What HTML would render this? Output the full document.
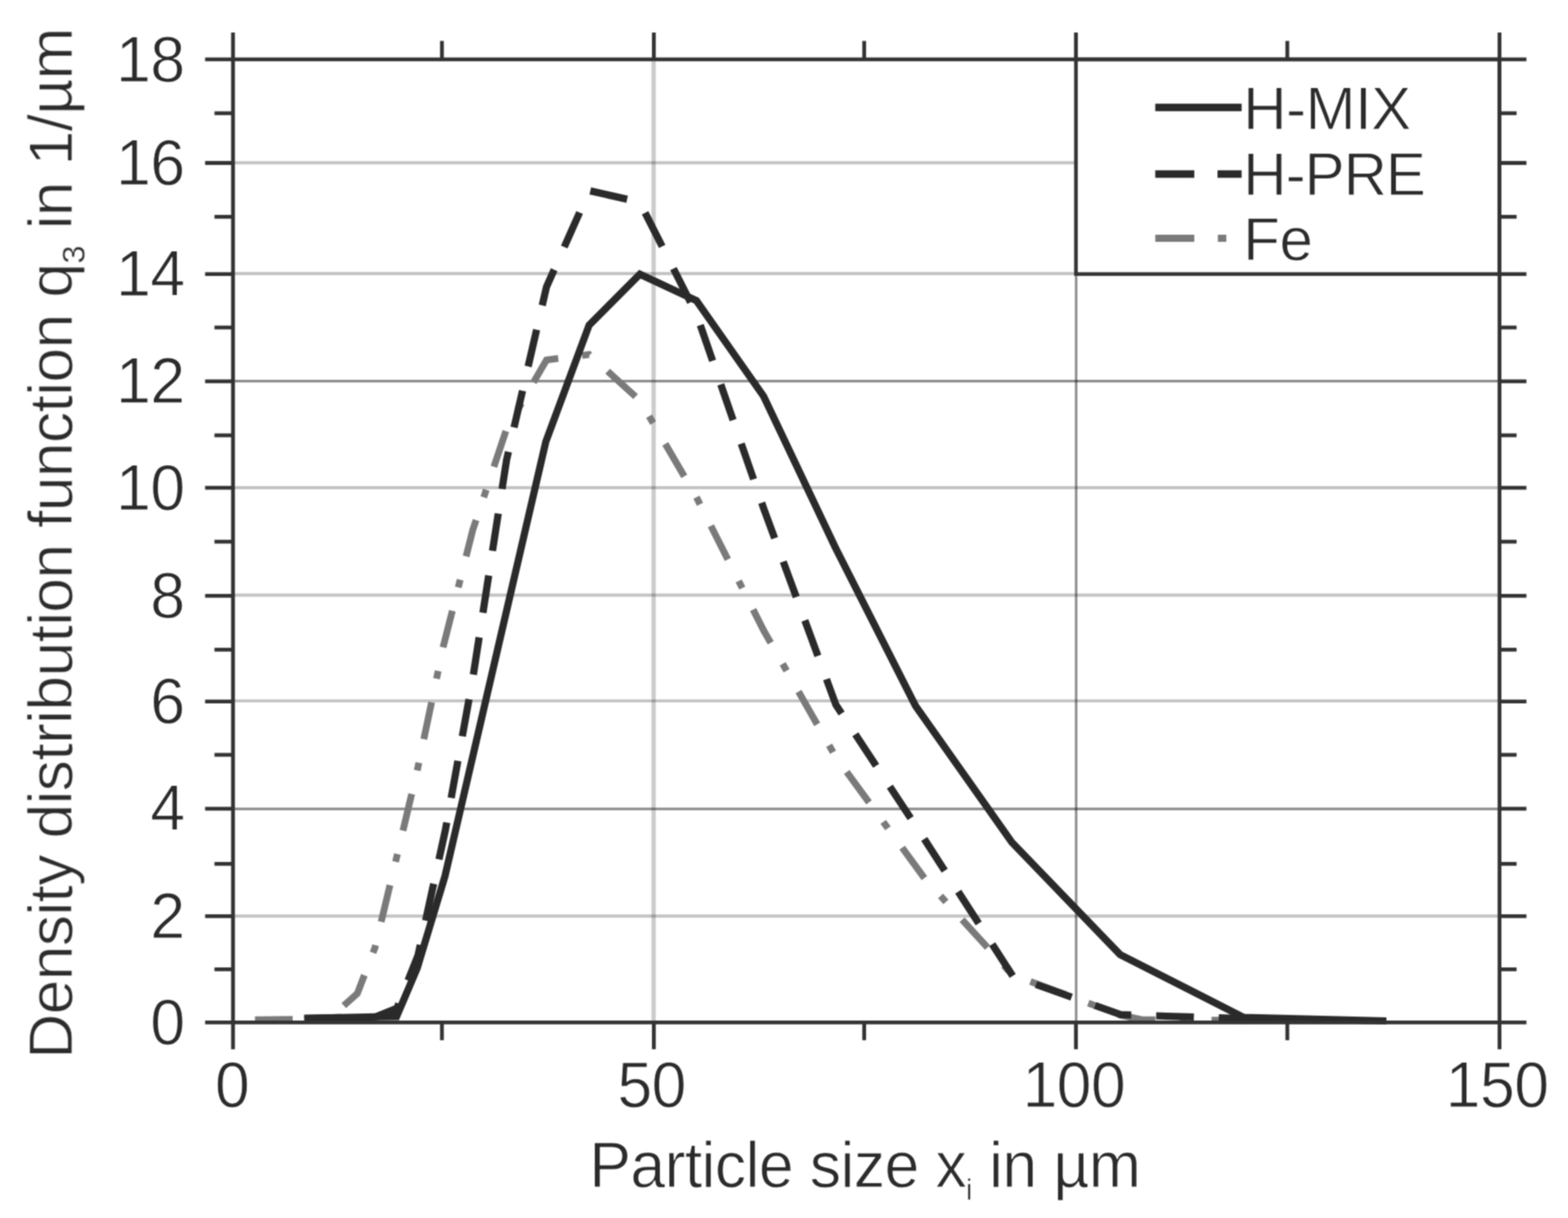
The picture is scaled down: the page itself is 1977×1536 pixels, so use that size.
<!DOCTYPE html>
<html lang="en"><head><meta charset="utf-8"><title>Particle size distribution</title>
<style>html,body{margin:0;padding:0;background:#fff;}body{width:1977px;height:1536px;overflow:hidden;}svg{display:block;}text{font-family:"Liberation Sans",sans-serif;fill:#2b2b2b;stroke:#fff;stroke-width:1px;stroke-linejoin:round;}</style>
</head><body>
<svg width="1977" height="1536" viewBox="0 0 1977 1536">
<defs><filter id="soft" x="0" y="0" width="1977" height="1536" filterUnits="userSpaceOnUse" color-interpolation-filters="sRGB"><feConvolveMatrix order="3" kernelMatrix="1 2 1 2 4 2 1 2 1" divisor="16" edgeMode="duplicate" preserveAlpha="false"/></filter></defs>
<rect width="1977" height="1536" fill="#fff"/>
<g filter="url(#soft)">
<g fill="none" stroke="#000" stroke-linecap="butt">
<line x1="293.8" y1="205.3" x2="1890.65" y2="205.3" stroke-opacity="0.235" stroke-width="3.9"/>
<line x1="293.8" y1="345.0" x2="1890.65" y2="345.0" stroke-opacity="0.235" stroke-width="3.9"/>
<line x1="293.8" y1="480.6" x2="1890.65" y2="480.6" stroke-opacity="0.46" stroke-width="3.2"/>
<line x1="293.8" y1="615.0" x2="1890.65" y2="615.0" stroke-opacity="0.235" stroke-width="3.9"/>
<line x1="293.8" y1="750.5" x2="1890.65" y2="750.5" stroke-opacity="0.235" stroke-width="3.9"/>
<line x1="293.8" y1="883.9" x2="1890.65" y2="883.9" stroke-opacity="0.235" stroke-width="3.9"/>
<line x1="293.8" y1="1020.1" x2="1890.65" y2="1020.1" stroke-opacity="0.46" stroke-width="3.2"/>
<line x1="293.8" y1="1155.3" x2="1890.65" y2="1155.3" stroke-opacity="0.235" stroke-width="3.9"/>
<line x1="824.1" y1="74.9" x2="824.1" y2="1289.3" stroke-opacity="0.205" stroke-width="5.4"/>
<line x1="1356.85" y1="345.6" x2="1356.85" y2="1289.3" stroke-opacity="0.46" stroke-width="3.1"/>
</g>
<rect x="1356.6" y="74.9" width="534.05" height="270.70" fill="#fff" stroke="#333" stroke-width="4.6"/>
<g fill="none" stroke-linejoin="miter" stroke-linecap="butt">
<polyline points="321.5,1286 414,1285 431.4,1270 450.5,1253 472.8,1195 497.3,1093 526,972 559,815 596.2,668 638.7,541 689,454 742.8,447 806.8,505 878.1,627 962.8,795 1054,955 1166,1108 1276,1229 1412.2,1280 1440,1286 1600,1287" stroke="#7a7a7a" stroke-width="8.6" stroke-dasharray="47.5 30.4 10 30.4"/>
<polyline points="383.7,1284.3 474,1282.3 500.5,1271.5 527,1205 561.5,1047 596.2,855 638.7,580 689,362 743,240.5 806.5,254.8 878.1,396 962.8,641 1054,889 1154.3,1041 1277,1231 1413,1279.5 1470,1281.5 1569,1284.5 1600,1285" stroke="#2a2a2a" stroke-width="9.1" stroke-dasharray="47.6 31.4" stroke-dashoffset="1.4"/>
<polyline points="383.7,1284.3 474,1282.3 500,1282 526,1221 561,1105 597,950 638.7,770.2 688.2,557 742.8,410 806.8,345.8 878.1,379.1 962.8,499.7 1053,690 1154.3,890.1 1275.7,1062.1 1412.2,1203.7 1568,1283 1748,1287.5" stroke="#2a2a2a" stroke-width="9.1"/>
</g>
<g stroke="#333" stroke-width="4.8" fill="none" stroke-linecap="butt">
<line x1="258.6" y1="74.9" x2="1924.6" y2="74.9"/>
<line x1="258.6" y1="1289.3" x2="1924.6" y2="1289.3"/>
<line x1="293.8" y1="41" x2="293.8" y2="1323.2"/>
<line x1="1890.65" y1="41" x2="1890.65" y2="1323.2"/>
<line x1="258.6" y1="205.5" x2="293.8" y2="205.5"/>
<line x1="1890.65" y1="205.5" x2="1924.6" y2="205.5"/>
<line x1="258.6" y1="345.6" x2="293.8" y2="345.6"/>
<line x1="1890.65" y1="345.6" x2="1924.6" y2="345.6"/>
<line x1="258.6" y1="480.8" x2="293.8" y2="480.8"/>
<line x1="1890.65" y1="480.8" x2="1924.6" y2="480.8"/>
<line x1="258.6" y1="615.1" x2="293.8" y2="615.1"/>
<line x1="1890.65" y1="615.1" x2="1924.6" y2="615.1"/>
<line x1="258.6" y1="751.4" x2="293.8" y2="751.4"/>
<line x1="1890.65" y1="751.4" x2="1924.6" y2="751.4"/>
<line x1="258.6" y1="884.7" x2="293.8" y2="884.7"/>
<line x1="1890.65" y1="884.7" x2="1924.6" y2="884.7"/>
<line x1="258.6" y1="1019.8" x2="293.8" y2="1019.8"/>
<line x1="1890.65" y1="1019.8" x2="1924.6" y2="1019.8"/>
<line x1="258.6" y1="1155.3" x2="293.8" y2="1155.3"/>
<line x1="1890.65" y1="1155.3" x2="1924.6" y2="1155.3"/>
<line x1="270.4" y1="142.8" x2="293.8" y2="142.8"/>
<line x1="1890.65" y1="142.8" x2="1912.2" y2="142.8"/>
<line x1="270.4" y1="273.4" x2="293.8" y2="273.4"/>
<line x1="1890.65" y1="273.4" x2="1912.2" y2="273.4"/>
<line x1="270.4" y1="413" x2="293.8" y2="413"/>
<line x1="1890.65" y1="413" x2="1912.2" y2="413"/>
<line x1="270.4" y1="549" x2="293.8" y2="549"/>
<line x1="1890.65" y1="549" x2="1912.2" y2="549"/>
<line x1="270.4" y1="683.1" x2="293.8" y2="683.1"/>
<line x1="1890.65" y1="683.1" x2="1912.2" y2="683.1"/>
<line x1="270.4" y1="819.3" x2="293.8" y2="819.3"/>
<line x1="1890.65" y1="819.3" x2="1912.2" y2="819.3"/>
<line x1="270.4" y1="951.9" x2="293.8" y2="951.9"/>
<line x1="1890.65" y1="951.9" x2="1912.2" y2="951.9"/>
<line x1="270.4" y1="1089.4" x2="293.8" y2="1089.4"/>
<line x1="1890.65" y1="1089.4" x2="1912.2" y2="1089.4"/>
<line x1="270.4" y1="1222.4" x2="293.8" y2="1222.4"/>
<line x1="1890.65" y1="1222.4" x2="1912.2" y2="1222.4"/>
<line x1="824.4" y1="41" x2="824.4" y2="74.9"/>
<line x1="824.4" y1="1289.3" x2="824.4" y2="1323.2"/>
<line x1="1356.6" y1="41" x2="1356.6" y2="74.9"/>
<line x1="1356.6" y1="1289.3" x2="1356.6" y2="1323.2"/>
<line x1="557.2" y1="51.6" x2="557.2" y2="74.9"/>
<line x1="557.2" y1="1289.3" x2="557.2" y2="1311.8"/>
<line x1="1089.6" y1="51.6" x2="1089.6" y2="74.9"/>
<line x1="1089.6" y1="1289.3" x2="1089.6" y2="1311.8"/>
<line x1="1623.1" y1="51.6" x2="1623.1" y2="74.9"/>
<line x1="1623.1" y1="1289.3" x2="1623.1" y2="1311.8"/>
</g>
<g font-size="79px" letter-spacing="-0.75" text-anchor="end">
<text transform="translate(232.6 102.5) scale(1 1.033)">18</text>
<text transform="translate(232.6 233.1) scale(1 1.033)">16</text>
<text transform="translate(232.6 373.2) scale(1 1.033)">14</text>
<text transform="translate(232.6 508.4) scale(1 1.033)">12</text>
<text transform="translate(232.6 642.7) scale(1 1.033)">10</text>
<text transform="translate(232.6 779.0) scale(1 1.033)">8</text>
<text transform="translate(232.6 912.3) scale(1 1.033)">6</text>
<text transform="translate(232.6 1047.4) scale(1 1.033)">4</text>
<text transform="translate(232.6 1182.9) scale(1 1.033)">2</text>
<text transform="translate(232.6 1316.9) scale(1 1.033)">0</text>
</g>
<g font-size="79px" letter-spacing="-0.75" text-anchor="middle">
<text transform="translate(292.7 1396.5) scale(1 1.033)">0</text>
<text transform="translate(821.6 1396.5) scale(1 1.033)">50</text>
<text transform="translate(1353.9 1396.5) scale(1 1.033)">100</text>
<text transform="translate(1887.6 1396.5) scale(1 1.033)">150</text>
</g>
<text transform="translate(742.9 1497.4) scale(1 1.033)" font-size="79px" letter-spacing="-0.8">Particle size x<tspan font-size="35.5px" stroke-width="0.4" dy="15.3">i</tspan><tspan dy="-15.3" dx="0.6"> in µm</tspan></text>
<text transform="translate(90.4 1335.2) rotate(-90) scale(0.9957 0.98)" font-size="79px" letter-spacing="-0.8">Density distribution function q<tspan font-size="41.5px" stroke-width="0.4" dy="17">3</tspan><tspan dy="-17"> in 1/µm</tspan></text>
<g fill="none" stroke-linecap="butt">
<line x1="1456.6" y1="135.5" x2="1565.5" y2="135.5" stroke="#2a2a2a" stroke-width="9.5"/>
<line x1="1456.6" y1="219.5" x2="1565.5" y2="219.5" stroke="#2a2a2a" stroke-width="9.5" stroke-dasharray="49.2 29.3"/>
<line x1="1456.6" y1="300.4" x2="1565.5" y2="300.4" stroke="#7a7a7a" stroke-width="9" stroke-dasharray="49.2 29.7 10.7 100"/>
</g>
<g font-size="75.9px" letter-spacing="-0.8">
<text transform="translate(1567.6 163.3) scale(1 1.005)" letter-spacing="-0.8">H-MIX</text>
<text transform="translate(1567.6 245.9) scale(1 1.005)" letter-spacing="-1.45">H-PRE</text>
<text transform="translate(1567.6 327.6) scale(1 1.005)" letter-spacing="-0.8">Fe</text>
</g>
</g>
</svg></body></html>
